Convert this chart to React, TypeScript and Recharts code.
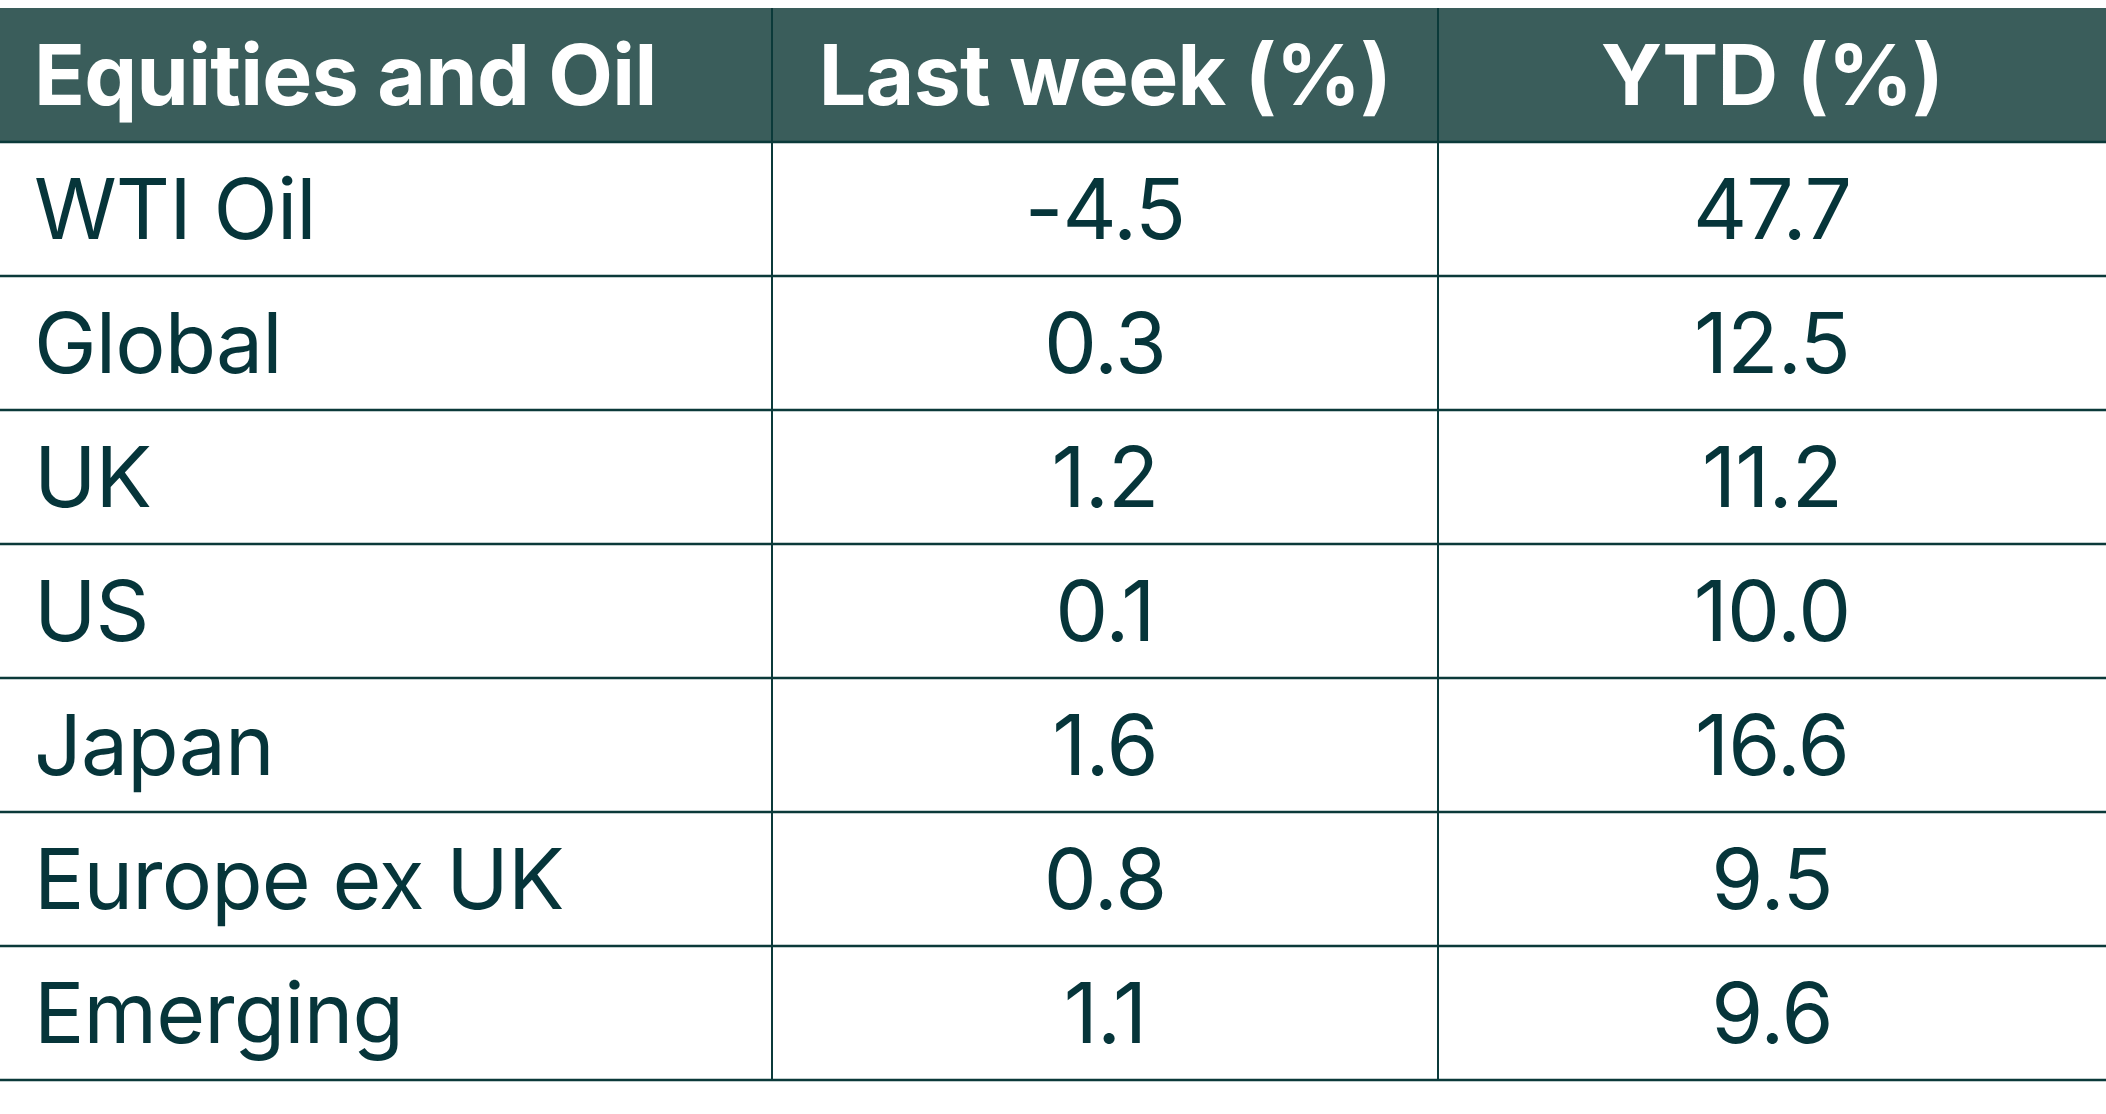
import { ScatterChart, Scatter, XAxis, YAxis, ReferenceArea, ReferenceLine } from "recharts"

const headers = ["Equities and Oil", "Last week (%)", "YTD (%)"]
const categories = ["WTI Oil", "Global", "UK", "US", "Japan", "Europe ex UK", "Emerging"]
const lastWeek = [-4.5, 0.3, 1.2, 0.1, 1.6, 0.8, 1.1]
const ytd = [47.7, 12.5, 11.2, 10.0, 16.6, 9.5, 9.6]

// layout (pixel-like x units, one unit per table row on y)
const W = 2106
const H = 1114
const colEdges = [0, 772, 1438, W]
const textPad = 34
const rowCount = categories.length + 1

const HEADER_BG = "#3a5d5b"
const LINE = "#0b3a3a"
const TEXT = "#06353a"
const FONT = "Inter, 'Noto Sans', sans-serif"

const colCenter = (i: number) => (colEdges[i] + colEdges[i + 1]) / 2

const headerCells = headers.map((h, i) => ({
  x: i === 0 ? textPad : colCenter(i),
  y: 0.5,
  text: h,
  anchor: i === 0 ? "start" : "middle",
}))
const nameCells = categories.map((c, i) => ({ x: textPad, y: i + 1.5, text: c, anchor: "start" }))
const weekCells = lastWeek.map((v, i) => ({ x: colCenter(1), y: i + 1.5, text: v.toFixed(1), anchor: "middle" }))
const ytdCells = ytd.map((v, i) => ({ x: colCenter(2), y: i + 1.5, text: v.toFixed(1), anchor: "middle" }))

const cellText = (color: string, weight: number, spacing: number) => (props: any) => {
  const { cx, cy, payload } = props
  return (
    <text
      x={cx}
      y={cy + 30}
      textAnchor={payload.anchor}
      fill={color}
      fontFamily={FONT}
      fontSize={84}
      fontWeight={weight}
      letterSpacing={spacing}
    >
      {payload.text}
    </text>
  )
}

export default function App() {
  return (
    <div style={{ position: "absolute", left: 0, top: 0, background: "#fff" }}>
      <ScatterChart width={W} height={H} margin={{ top: 8, right: 0, bottom: 34, left: 0 }}>
        <XAxis type="number" dataKey="x" domain={[0, W]} hide />
        <YAxis type="number" dataKey="y" domain={[0, rowCount]} reversed hide />
        <ReferenceArea x1={0} x2={W} y1={0} y2={1} fill={HEADER_BG} fillOpacity={1} stroke="none" />
        {Array.from({ length: rowCount }, (_, i) => (
          <ReferenceLine key={`h${i}`} y={i + 1} stroke={LINE} strokeWidth={2.5} />
        ))}
        {colEdges.slice(1, -1).map((x) => (
          <ReferenceLine key={`v${x}`} x={x} stroke={LINE} strokeWidth={2} />
        ))}
        <Scatter data={headerCells} shape={cellText("#ffffff", 700, -0.7)} isAnimationActive={false} />
        <Scatter data={nameCells} shape={cellText(TEXT, 400, -0.9)} isAnimationActive={false} />
        <Scatter data={weekCells} shape={cellText(TEXT, 400, -0.9)} isAnimationActive={false} />
        <Scatter data={ytdCells} shape={cellText(TEXT, 400, -0.9)} isAnimationActive={false} />
      </ScatterChart>
    </div>
  )
}
